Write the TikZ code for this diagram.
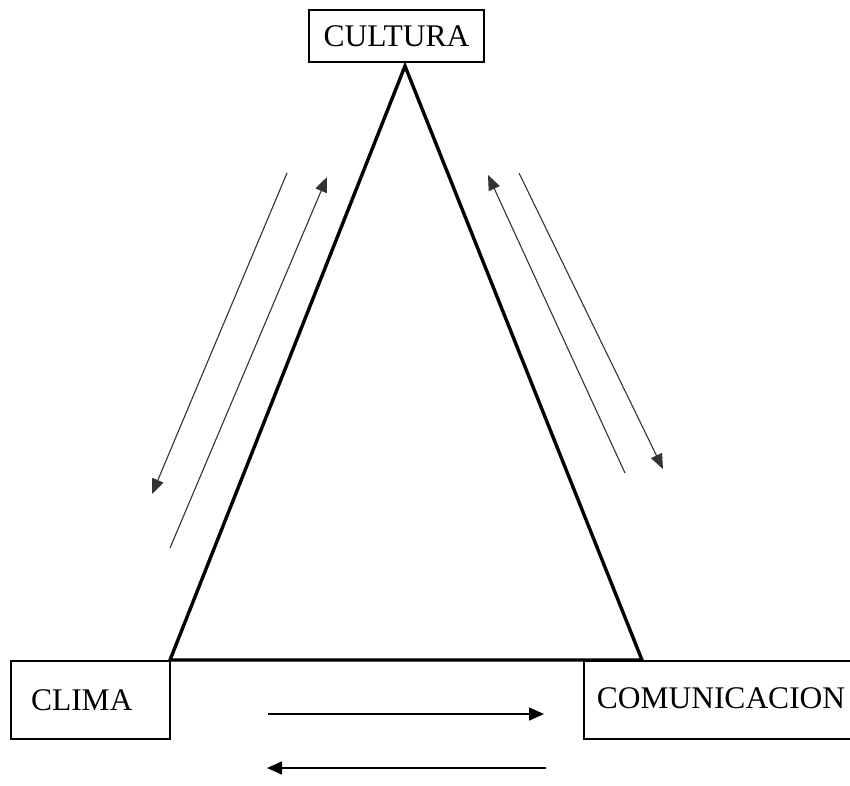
\documentclass[tikz,border=0pt]{standalone}
\usepackage{fontspec}
\setmainfont{Liberation Serif}
\usetikzlibrary{arrows.meta}
\begin{document}
\begin{tikzpicture}[x=1pt,y=-1pt,
  box/.style={draw, line width=1.5pt, inner sep=0pt, font=\fontsize{31.5}{33}\selectfont},
  thinarrow/.style={draw=black!80, line width=1.1pt, -{Triangle[length=15pt,width=12pt]}},
  harrow/.style={draw, line width=1.6pt, -{Triangle[length=15pt,width=13pt]}},
  side/.style={draw, line width=3.4pt, line join=miter}]
\useasboundingbox (0,0) rectangle (850,785);
\fill[white] (0,0) rectangle (850,785);
% boxes
\node[box, minimum width=175pt, minimum height=52pt] (cultura) at (396.5,36) {CULTURA};
\node[box, minimum width=159pt, minimum height=78pt, text width=131pt, align=left, inner xsep=14pt] (clima) at (90.5,700) {\hspace*{6pt}\raisebox{-1pt}{CLIMA}};
\node[box, anchor=west, minimum height=78pt, text width=280pt, align=left, inner xsep=13pt] (comu) at (583,700) {\raisebox{3pt}{COMUNICACION}};
% triangle vertices
\coordinate (apex) at (405,66);
\coordinate (lb) at (170,660);
\coordinate (rb) at (642,660);
\draw[side] (lb) -- (apex) -- (rb) -- cycle;
% left side arrows
\coordinate (l1s) at (287,173); \coordinate (l1e) at (152,494);
\coordinate (l2s) at (170,548); \coordinate (l2e) at (327,177);
\draw[thinarrow] (l1s) -- (l1e);
\draw[thinarrow] (l2s) -- (l2e);
% right side arrows
\coordinate (r1s) at (625,473); \coordinate (r1e) at (488,175);
\coordinate (r2s) at (519,173); \coordinate (r2e) at (663,469);
\draw[thinarrow] (r1s) -- (r1e);
\draw[thinarrow] (r2s) -- (r2e);
% bottom arrows
\coordinate (b1s) at (268,714); \coordinate (b1e) at (544,714);
\coordinate (b2s) at (546,768); \coordinate (b2e) at (267,768);
\draw[harrow] (b1s) -- (b1e);
\draw[harrow] (b2s) -- (b2e);
\end{tikzpicture}
\end{document}
